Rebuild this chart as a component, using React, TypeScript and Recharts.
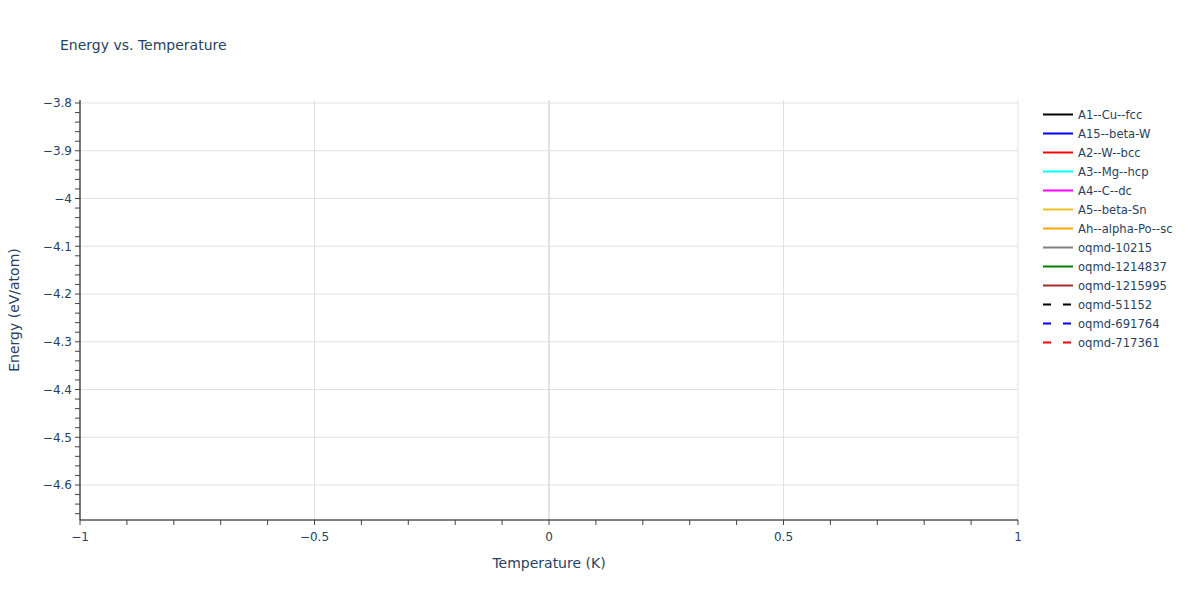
import { LineChart, Line, XAxis, YAxis, ReferenceLine } from 'recharts'

const seriesNames = [
  'A1--Cu--fcc',
  'A15--beta-W',
  'A2--W--bcc',
  'A3--Mg--hcp',
  'A4--C--dc',
  'A5--beta-Sn',
  'Ah--alpha-Po--sc',
  'oqmd-10215',
  'oqmd-1214837',
  'oqmd-1215995',
  'oqmd-51152',
  'oqmd-691764',
  'oqmd-717361',
]
const seriesColors = [
  '#000000',
  '#0000ff',
  '#ff0000',
  '#00ffff',
  '#ff00ff',
  '#f0c020',
  '#ffa500',
  '#808080',
  '#008000',
  '#a52a2a',
  '#000000',
  '#0000ff',
  '#ff0000',
]
const seriesDashed = [false, false, false, false, false, false, false, false, false, false, true, true, true]

// nothing is visible inside the plot, so each series only has an empty value at T = 0
const temperatures = [0]
const energies: (number | null)[] = [null]

const xMajorTicks = [-1, -0.5, 0, 0.5, 1]
const yMajorTicks = [-4.6, -4.5, -4.4, -4.3, -4.2, -4.1, -4, -3.9, -3.8]
const xMinorStep = 0.1
const yMinorStep = 0.02

const xDomain = [-1, 1]
const yDomain = [-4.6733, -3.7937]

const data = temperatures.map((t, i) => {
  const row: Record<string, number | null> = { temperature: t }
  seriesNames.forEach((name) => {
    row[name] = energies[i]
  })
  return row
})

const steps = (from: number, to: number, step: number) => {
  const out: number[] = []
  for (let k = Math.ceil(from / step - 1e-6); k * step <= to + 1e-9; k++) {
    out.push(Math.round(k * step * 1000) / 1000)
  }
  return out
}

const xTicks = steps(xDomain[0], xDomain[1], xMinorStep)
const yTicks = steps(yDomain[0], yDomain[1], yMinorStep)

const isMajor = (v: number, majors: number[]) => majors.some((m) => Math.abs(m - v) < 1e-6)
const fmt = (v: number) => (v < 0 ? '\u2212' + String(Math.abs(v)) : String(v))

const FONT = '"DejaVu Sans", Verdana, sans-serif'
const TEXT = '#2a3f5f'
const GRID = '#e1e1e1'

export default function App() {
  return (
    <div style={{ position: 'absolute', left: 0, top: 0, width: 1200, height: 600, background: '#fff', fontFamily: FONT }}>
      <div style={{ position: 'absolute', left: 60, top: 37, fontSize: 14, color: TEXT, whiteSpace: 'nowrap' }}>
        Energy vs. Temperature
      </div>

      <LineChart width={1200} height={600} data={data} margin={{ top: 100, right: 182, bottom: 50, left: 0 }}>
        {xMajorTicks.map((v) => (
          <ReferenceLine key={'gx' + v} x={v} stroke={GRID} strokeWidth={v === 0 ? 2 : 1} />
        ))}
        {yMajorTicks.map((v) => (
          <ReferenceLine key={'gy' + v} y={v} stroke={GRID} strokeWidth={1} />
        ))}
        <XAxis
          type="number"
          dataKey="temperature"
          domain={xDomain}
          ticks={xTicks}
          interval={0}
          allowDataOverflow
          height={30}
          tickSize={5}
          tickMargin={7}
          axisLine={{ stroke: '#000', strokeWidth: 1 }}
          tickLine={{ stroke: '#444' }}
          tick={{ fill: TEXT, fontSize: 12, fontFamily: FONT }}
          tickFormatter={(v: number) => (isMajor(v, xMajorTicks) ? fmt(v) : '')}
        />
        <YAxis
          type="number"
          domain={yDomain}
          ticks={yTicks}
          interval={0}
          allowDataOverflow
          width={80}
          tickSize={5}
          tickMargin={3}
          axisLine={{ stroke: '#000', strokeWidth: 1 }}
          tickLine={{ stroke: '#444' }}
          tick={{ fill: TEXT, fontSize: 12, fontFamily: FONT }}
          tickFormatter={(v: number) => (isMajor(v, yMajorTicks) ? fmt(v) : '')}
        />
        {seriesNames.map((name, i) => (
          <Line
            key={name}
            dataKey={name}
            stroke={seriesColors[i]}
            strokeWidth={2}
            strokeDasharray={seriesDashed[i] ? '9 9' : undefined}
            dot={false}
            isAnimationActive={false}
          />
        ))}
      </LineChart>

      <div style={{ position: 'absolute', left: 549, top: 555, transform: 'translateX(-50%)', fontSize: 14, color: TEXT, whiteSpace: 'nowrap' }}>
        Temperature (K)
      </div>
      <div
        style={{
          position: 'absolute',
          left: 14,
          top: 310,
          transform: 'translate(-50%, -50%) rotate(-90deg)',
          fontSize: 14,
          color: TEXT,
          whiteSpace: 'nowrap',
        }}
      >
        Energy (eV/atom)
      </div>

      <div style={{ position: 'absolute', left: 1040, top: 105 }}>
        {seriesNames.map((name, i) => (
          <div key={name} style={{ display: 'flex', alignItems: 'center', height: 19 }}>
            <svg width={36} height={19} style={{ display: 'block' }}>
              <line
                x1={3}
                y1={9.5}
                x2={33}
                y2={9.5}
                stroke={seriesColors[i]}
                strokeWidth={2}
                strokeDasharray={seriesDashed[i] ? '8 12' : undefined}
              />
            </svg>
            <span style={{ fontSize: 11.6, color: TEXT, marginLeft: 2, whiteSpace: 'nowrap' }}>{name}</span>
          </div>
        ))}
      </div>
    </div>
  )
}
